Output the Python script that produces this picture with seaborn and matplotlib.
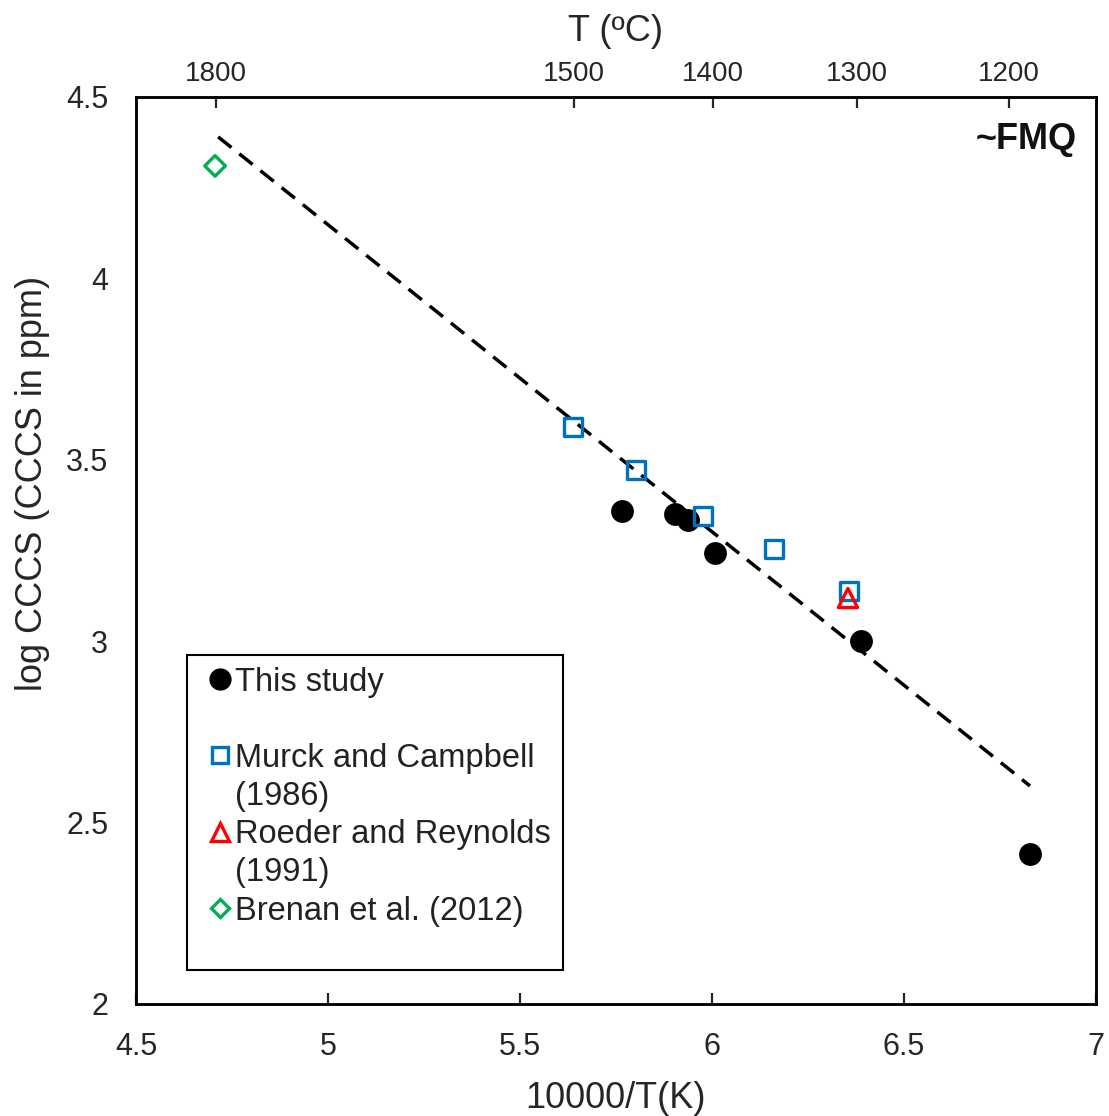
import numpy as np
import pandas as pd
import matplotlib
matplotlib.use("Agg")
import matplotlib.pyplot as plt
from matplotlib.lines import Line2D
import seaborn as sns

# Experimental data: x = 10000/T(K), y = log CCCS (ppm)
this_study_x = [5.766, 5.904, 5.938, 6.008, 6.388, 6.828]
this_study_y = [3.359, 3.351, 3.334, 3.243, 3.000, 2.413]

murck_x = [5.638, 5.802, 5.977, 6.161, 6.357]
murck_y = [3.590, 3.472, 3.345, 3.254, 3.138]

roeder_x = [6.354]
roeder_y = [3.119]

brenan_x = [4.706]
brenan_y = [4.310]

# Linear trend line endpoints
fit_x = [4.714, 6.828]
fit_y = [4.390, 2.601]

# Temperature (°C) scale on the top axis
top_tick_pos = [4.708, 5.641, 6.003, 6.378, 6.773]
top_tick_labels = ["1800", "1500", "1400", "1300", "1200"]

x_ticks = [4.5, 5, 5.5, 6, 6.5, 7]
x_tick_labels = ["4.5", "5", "5.5", "6", "6.5", "7"]
y_ticks = [2, 2.5, 3, 3.5, 4, 4.5]
y_tick_labels = ["2", "2.5", "3", "3.5", "4", "4.5"]

BLACK = "#000000"
BLUE = "#0070C0"
RED = "#FF0000"
GREEN = "#00B050"

sns.set_style("white")
plt.rcParams["font.family"] = ["Liberation Sans", "DejaVu Sans"]

fig = plt.figure(figsize=(11.09, 11.16), dpi=100)
ax = fig.add_axes([0.1226, 0.1004, 0.8657, 0.8127])

df_this = pd.DataFrame({"x": this_study_x, "y": this_study_y})
df_murck = pd.DataFrame({"x": murck_x, "y": murck_y})
df_roeder = pd.DataFrame({"x": roeder_x, "y": roeder_y})
df_brenan = pd.DataFrame({"x": brenan_x, "y": brenan_y})
df_fit = pd.DataFrame({"x": fit_x, "y": fit_y})

sns.lineplot(data=df_fit, x="x", y="y", ax=ax, color=BLACK, linewidth=2.5,
             dashes=False, zorder=2)
ax.lines[-1].set_dashes((4.9, 2.9))

sns.scatterplot(data=df_this, x="x", y="y", ax=ax, marker="o", s=270,
                color=BLACK, edgecolor=BLACK, linewidth=0, zorder=3)
sns.scatterplot(data=df_murck, x="x", y="y", ax=ax, marker="s", s=165,
                facecolor="none", edgecolor=BLUE, linewidth=2.4, zorder=4)
sns.scatterplot(data=df_roeder, x="x", y="y", ax=ax, marker="^", s=190,
                facecolor="none", edgecolor=RED, linewidth=2.4, zorder=5)
sns.scatterplot(data=df_brenan, x="x", y="y", ax=ax, marker="D", s=110,
                facecolor="none", edgecolor=GREEN, linewidth=2.4, zorder=4)

ax.set_xlim(4.5, 7)
ax.set_ylim(2, 4.5)
ax.set_xticks(x_ticks, x_tick_labels)
ax.set_yticks(y_ticks, y_tick_labels)
ax.tick_params(axis="x", direction="in", length=8, width=1.6, pad=20,
               labelsize=22, labelcolor="#262626", top=False)
ax.tick_params(axis="y", direction="in", length=8, width=1.6, pad=20,
               labelsize=22, labelcolor="#262626", right=False)
for sp in ax.spines.values():
    sp.set_visible(True)
    sp.set_color(BLACK)
    sp.set_linewidth(1.8)

ax.set_xlabel("10000/T(K)", fontsize=26, labelpad=14)
ax.set_ylabel("log CCCS (CCCS in ppm)", fontsize=26)
ax.yaxis.set_label_coords(-0.09, 0.574)

# Top axis with temperature in °C
ax2 = ax.twiny()
ax2.set_xlim(ax.get_xlim())
ax2.set_xticks(top_tick_pos, top_tick_labels)
ax2.tick_params(axis="x", direction="in", length=8, width=1.6, pad=7.5,
                labelsize=20, labelcolor="#262626")
ax2.set_xlabel("T (ºC)", fontsize=26, labelpad=14)
for sp in ax2.spines.values():
    sp.set_color(BLACK)
    sp.set_linewidth(1.8)

ax.text(0.98, 0.9526, "~FMQ", transform=ax.transAxes, ha="right", va="center",
        fontsize=26, fontweight="bold", color="#111111")

# Legend with blank spacer rows
blank = Line2D([], [], linestyle="none", marker=None)
handles = [
    Line2D([], [], linestyle="none", marker="o", markersize=15,
           markerfacecolor=BLACK, markeredgecolor=BLACK),
    blank,
    Line2D([], [], linestyle="none", marker="s", markersize=12,
           markerfacecolor="none", markeredgecolor=BLUE, markeredgewidth=2.4),
    blank,
    Line2D([], [], linestyle="none", marker="^", markersize=13,
           markerfacecolor="none", markeredgecolor=RED, markeredgewidth=2.4),
    blank,
    Line2D([], [], linestyle="none", marker="D", markersize=9,
           markerfacecolor="none", markeredgecolor=GREEN, markeredgewidth=2.4),
    blank,
]
labels = ["This study", " ", "Murck and Campbell", "(1986)",
          "Roeder and Reynolds", "(1991)", "Brenan et al. (2012)", " "]
leg = ax.legend(handles, labels, loc="upper left",
                bbox_to_anchor=(0.053, 0.385), fontsize=23.5,
                frameon=True, fancybox=False, framealpha=1,
                edgecolor=BLACK, handlelength=1.3, handletextpad=-0.18,
                labelspacing=0.22, borderpad=0.36, borderaxespad=0)
leg.get_frame().set_linewidth(1.5)
for t in leg.get_texts():
    t.set_color("#222222")
leg.get_texts()[-1].set_fontsize(5)

fig.savefig("out.png", dpi=100)
